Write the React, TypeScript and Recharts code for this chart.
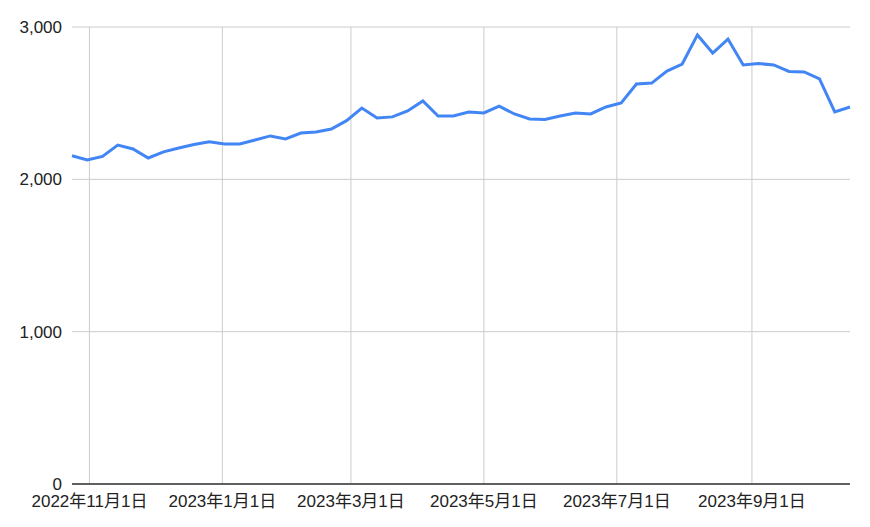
import { FC } from 'react';
import { LineChart, Line, XAxis, YAxis, CartesianGrid, ReferenceLine } from 'recharts';

// weekly samples
const weekDates: string[] = [
  '2022-10-24', '2022-10-31', '2022-11-07', '2022-11-14', '2022-11-21', '2022-11-28',
  '2022-12-05', '2022-12-12', '2022-12-19', '2022-12-26',
  '2023-01-02', '2023-01-09', '2023-01-16', '2023-01-23', '2023-01-30',
  '2023-02-06', '2023-02-13', '2023-02-20', '2023-02-27',
  '2023-03-06', '2023-03-13', '2023-03-20', '2023-03-27',
  '2023-04-03', '2023-04-10', '2023-04-17', '2023-04-24',
  '2023-05-01', '2023-05-08', '2023-05-15', '2023-05-22', '2023-05-29',
  '2023-06-05', '2023-06-12', '2023-06-19', '2023-06-26',
  '2023-07-03', '2023-07-10', '2023-07-17', '2023-07-24', '2023-07-31',
  '2023-08-07', '2023-08-14', '2023-08-21', '2023-08-28',
  '2023-09-04', '2023-09-11', '2023-09-18', '2023-09-25',
  '2023-10-02', '2023-10-09', '2023-10-16',
];

const values: number[] = [
  2155, 2127, 2150, 2225, 2199, 2140,
  2180, 2206, 2229, 2247,
  2232, 2232, 2258, 2285, 2265,
  2304, 2311, 2330, 2385,
  2468, 2403, 2410, 2449,
  2515, 2416, 2416, 2442,
  2436, 2481, 2429, 2396, 2393,
  2416, 2436, 2429, 2475,
  2501, 2626, 2632, 2711, 2757,
  2948, 2829, 2921, 2751,
  2760, 2751, 2708, 2705,
  2659, 2442, 2475,
];

const monthTicks: string[] = ['2022-11-01', '2023-01-01', '2023-03-01', '2023-05-01', '2023-07-01', '2023-09-01'];
const yTicks: number[] = [0, 1000, 2000, 3000];

const toTime = (s: string) => {
  const [y, m, d] = s.split('-').map(Number);
  return Date.UTC(y, m - 1, d);
};

const data = weekDates.map((d, i) => ({ t: toTime(d), value: values[i] }));
const xTicks = monthTicks.map(toTime);

const fmtDate = (t: number) => {
  const d = new Date(t);
  return `${d.getUTCFullYear()}年${d.getUTCMonth() + 1}月${d.getUTCDate()}日`;
};

const tickStyle = { fill: '#222', fontSize: 17 };

const App: FC = () => (
  <div style={{ position: 'absolute', left: 0, top: 0, background: '#fff', fontFamily: '"Liberation Sans", Arial, "Noto Sans CJK JP", sans-serif' }}>
    <LineChart width={870} height={527} data={data} margin={{ top: 27, right: 20, left: 0, bottom: 0 }}>
      <CartesianGrid stroke="#cccccc" strokeWidth={1} vertical={false} />
      {/* month grid lines only, none at the plot edges */}
      {xTicks.map((t) => (
        <ReferenceLine key={t} x={t} stroke="#cccccc" strokeWidth={1} />
      ))}
      <XAxis
        dataKey="t"
        type="number"
        scale="time"
        domain={[data[0].t, data[data.length - 1].t]}
        ticks={xTicks}
        tickFormatter={fmtDate}
        tick={tickStyle}
        tickLine={false}
        tickSize={6}
        tickMargin={5}
        axisLine={{ stroke: '#333', strokeWidth: 1.5 }}
        height={43}
        interval={0}
      />
      <YAxis
        domain={[0, 3000]}
        ticks={yTicks}
        tickFormatter={(v: number) => v.toLocaleString('en-US')}
        tick={tickStyle}
        tickLine={false}
        axisLine={false}
        tickSize={6}
        tickMargin={4}
        width={72}
      />
      <Line
        type="linear"
        dataKey="value"
        stroke="#4285f4"
        strokeWidth={3}
        dot={false}
        isAnimationActive={false}
      />
    </LineChart>
  </div>
);

export default App;
